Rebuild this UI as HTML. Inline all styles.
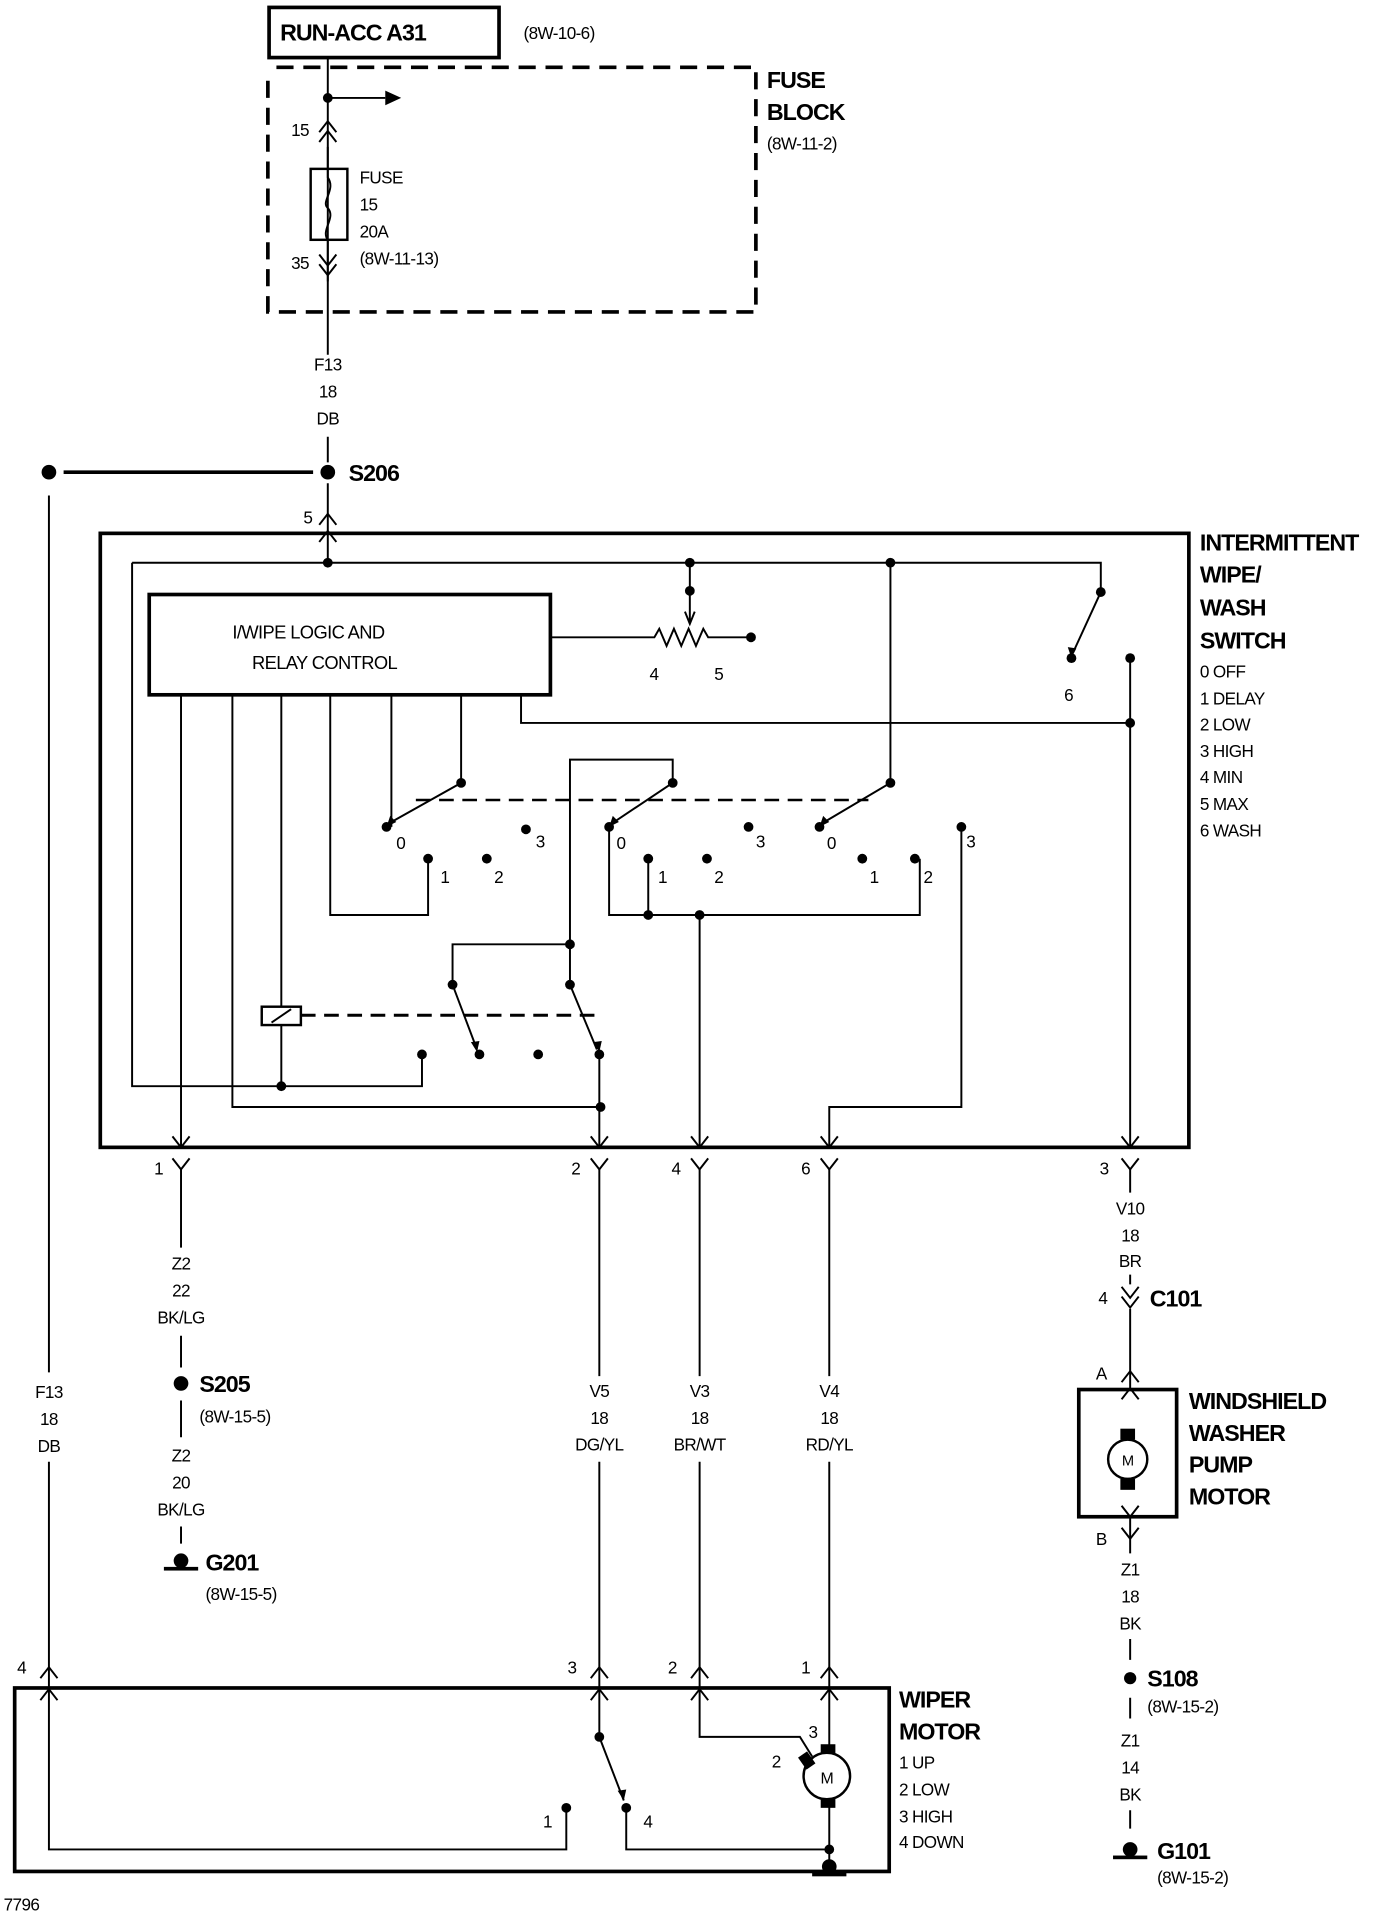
<!DOCTYPE html>
<html><head><meta charset="utf-8"><style>
html,body{margin:0;padding:0;background:#fff;}
svg{display:block;}
text{font-family:"Liberation Sans",sans-serif;fill:#000;}
.b{font-weight:bold;font-size:19px;letter-spacing:-0.8px;}
.s{font-size:14px;letter-spacing:-0.5px;}
.m{font-size:15px;letter-spacing:-0.5px;}
</style></head><body>
<svg width="1376" height="1918" viewBox="0 0 1125 1568" xmlns="http://www.w3.org/2000/svg">
<rect width="1125" height="1568" fill="#fff"/>
<g fill="none" stroke="#000" stroke-width="1.6">
<rect x="220" y="6" width="188" height="41" stroke-width="3"/>
<path d="M219 66 V255 H618 V55 H219" stroke-width="3" stroke-dasharray="14,8"/>
<path d="M268 47 V290 M268 357 V378"/>
<path d="M268 80 H315"/>
<rect x="254" y="138" width="30" height="58" stroke-width="2"/>
<path d="M268 120 V145 C275 155 262 165 268 170 C275 178 262 188 268 196 V230"/>
<path d="M261 108 L268 99 L275 108 M261 116 L268 107 L275 116"/>
<path d="M261 208 L268 217 L275 208 M261 216 L268 225 L275 216"/>
<path d="M52 386 H256" stroke-width="3"/>
<path d="M268 395 V460"/>
<path d="M261 429 L268 420 L275 429 M261 443 L268 434 L275 443"/>
<path d="M40 405 V1122 M40 1195 V1380"/>
<rect x="82" y="436" width="890" height="502" stroke-width="3"/>
<path d="M108 460 H900 V484 M108 460 V888 H345 V862"/>
<path d="M900 484 L878 532"/>
<rect x="122" y="486" width="328" height="82" stroke-width="3"/>
<path d="M450 521 H535 l4 -7 l6 14 l6 -14 l6 14 l6 -14 l6 14 l6 -14 l4 7 H612"/>
<path d="M564 460 V508 M560 500 L564 510 L568 500"/>
<path d="M426 568 V591 H924 M924 538 V938"/>
<path d="M148 568 V938 M190 568 V905 H491 M230 568 V888"/>
<rect x="214" y="823" width="32" height="15" fill="#fff" stroke-width="2"/>
<path d="M222 836 L238 825"/>
<path d="M246 830 H490" stroke-width="2.5" stroke-dasharray="12,7"/>
<path d="M270 568 V748 H350 V702 M320 568 V676 M377 568 V640 L320 672"/>
<path d="M340 654 H710" stroke-width="2" stroke-dasharray="12,7"/>
<path d="M466 772 V621 H550 V640 L502 672"/>
<path d="M498 676 V748 H752 V702 M530 748 V702 M572 748 V938"/>
<path d="M728 460 V640 L674 672"/>
<path d="M786 676 V905 H678 V938"/>
<path d="M466 772 H370 V805 L390 858 M466 772 V805 L488 858 M490 862 V938"/>
<path d="M141 929 L148 938 L155 929 M141 947 L148 956 L155 947"/>
<path d="M483 929 L490 938 L497 929 M483 947 L490 956 L497 947"/>
<path d="M565 929 L572 938 L579 929 M565 947 L572 956 L579 947"/>
<path d="M671 929 L678 938 L685 929 M671 947 L678 956 L685 947"/>
<path d="M917 929 L924 938 L931 929 M917 947 L924 956 L931 947"/>
<path d="M148 956 V1020 M148 1092 V1118 M148 1145 V1175 M148 1248 V1262"/>
<path d="M490 956 V1125 M490 1195 V1380 M572 956 V1125 M572 1195 V1380 M678 956 V1125 M678 1195 V1380"/>
<path d="M924 956 V975 M924 1042 V1050 M924 1070 V1135 M924 1240 V1270 M924 1340 V1357 M924 1388 V1405 M924 1480 V1495"/>
<path d="M917 1052 L924 1061 L931 1052 M917 1060 L924 1069 L931 1060"/>
<path d="M917 1130 L924 1121 L931 1130 M917 1144 L924 1135 L931 1144"/>
<path d="M917 1231 L924 1240 L931 1231 M917 1249 L924 1258 L931 1249"/>
<rect x="882" y="1136" width="80" height="104" stroke-width="3"/>
<circle cx="922" cy="1193" r="16" stroke-width="2"/>
<rect x="12" y="1380" width="715" height="150" stroke-width="3"/>
<path d="M33 1372 L40 1363 L47 1372 M33 1390 L40 1381 L47 1390"/>
<path d="M483 1372 L490 1363 L497 1372 M483 1390 L490 1381 L497 1390"/>
<path d="M565 1372 L572 1363 L579 1372 M565 1390 L572 1381 L579 1390"/>
<path d="M671 1372 L678 1363 L685 1372 M671 1390 L678 1381 L685 1390"/>
<path d="M40 1381 V1512 H463 V1478 M490 1381 V1420 L510 1472 M512 1478 V1512 H678 M572 1381 V1420 H654 L664 1436 M678 1381 V1432 M678 1472 V1530"/>
<circle cx="676" cy="1452" r="19" stroke-width="2"/>
</g>
<g fill="#000">
<circle cx="268" cy="80" r="4"/><path d="M315 74 L328 80 L315 86Z"/>
<circle cx="268" cy="386" r="6"/><circle cx="40" cy="386" r="6"/>
<circle cx="268" cy="460" r="4"/><circle cx="564" cy="460" r="4"/><circle cx="728" cy="460" r="4"/>
<circle cx="564" cy="483" r="4"/><circle cx="614" cy="521" r="4"/>
<circle cx="900" cy="484" r="4"/><circle cx="876" cy="538" r="4"/><circle cx="924" cy="538" r="4"/><circle cx="924" cy="591" r="4"/>
<circle cx="377" cy="640" r="4"/><circle cx="316" cy="676" r="4"/><circle cx="430" cy="678" r="4"/><circle cx="350" cy="702" r="4"/><circle cx="398" cy="702" r="4"/>
<circle cx="550" cy="640" r="4"/><circle cx="498" cy="676" r="4"/><circle cx="612" cy="676" r="4"/><circle cx="530" cy="702" r="4"/><circle cx="578" cy="702" r="4"/>
<circle cx="728" cy="640" r="4"/><circle cx="670" cy="676" r="4"/><circle cx="786" cy="676" r="4"/><circle cx="705" cy="702" r="4"/><circle cx="748" cy="702" r="4"/>
<circle cx="530" cy="748" r="4"/><circle cx="572" cy="748" r="4"/>
<circle cx="466" cy="772" r="4"/><circle cx="370" cy="805" r="4"/><circle cx="466" cy="805" r="4"/>
<circle cx="345" cy="862" r="4"/><circle cx="392" cy="862" r="4"/><circle cx="440" cy="862" r="4"/><circle cx="490" cy="862" r="4"/>
<circle cx="230" cy="888" r="4"/><circle cx="491" cy="905" r="4"/>
<path d="M316 676 l3 -9 l5 5Z"/><path d="M498 676 l3 -9 l5 5Z"/><path d="M670 676 l3 -9 l5 5Z"/>
<path d="M876 538 l-3 -9 l7 1Z"/><path d="M390 860 l-5 -8 l7 -1Z"/><path d="M490 860 l-5 -8 l7 -1Z"/>
<circle cx="148" cy="1131" r="6"/>
<circle cx="148" cy="1276" r="6"/><rect x="134" y="1281" width="28" height="3"/>
<rect x="916" y="1168" width="12" height="9"/><rect x="916" y="1209" width="12" height="9"/>
<circle cx="924" cy="1372" r="5"/>
<circle cx="924" cy="1512" r="6"/><rect x="910" y="1517" width="28" height="3"/>
<circle cx="463" cy="1478" r="4"/><circle cx="512" cy="1478" r="4"/><circle cx="490" cy="1420" r="4"/>
<path d="M510 1472 l-5 -8 l7 -1Z"/>
<rect x="671" y="1426" width="12" height="8"/><rect x="671" y="1470" width="12" height="8"/>
<rect x="655" y="1433" width="9" height="12" transform="rotate(-35 660 1439)"/>
<circle cx="678" cy="1512" r="4"/><circle cx="678" cy="1526" r="6"/><rect x="664" y="1531" width="28" height="3"/>
</g>
<text class="b" x="229" y="33">RUN-ACC A31</text>
<text class="s" x="428" y="32">(8W-10-6)</text>
<text class="b" x="627" y="72">FUSE</text>
<text class="b" x="627" y="98">BLOCK</text>
<text class="s" x="627" y="122">(8W-11-2)</text>
<text class="s" x="238" y="111">15</text>
<text class="s" x="238" y="220">35</text>
<text class="s" x="294" y="150">FUSE</text>
<text class="s" x="294" y="172">15</text>
<text class="s" x="294" y="194">20A</text>
<text class="s" x="294" y="216">(8W-11-13)</text>
<g class="s" text-anchor="middle">
<text x="268" y="303">F13</text><text x="268" y="325">18</text><text x="268" y="347">DB</text>
<text x="40" y="1143">F13</text><text x="40" y="1165">18</text><text x="40" y="1187">DB</text>
<text x="148" y="1038">Z2</text><text x="148" y="1060">22</text><text x="148" y="1082">BK/LG</text>
<text x="148" y="1195">Z2</text><text x="148" y="1217">20</text><text x="148" y="1239">BK/LG</text>
<text x="490" y="1142">V5</text><text x="490" y="1164">18</text><text x="490" y="1186">DG/YL</text>
<text x="572" y="1142">V3</text><text x="572" y="1164">18</text><text x="572" y="1186">BR/WT</text>
<text x="678" y="1142">V4</text><text x="678" y="1164">18</text><text x="678" y="1186">RD/YL</text>
<text x="924" y="993">V10</text><text x="924" y="1015">18</text><text x="924" y="1036">BR</text>
<text x="924" y="1288">Z1</text><text x="924" y="1310">18</text><text x="924" y="1332">BK</text>
<text x="924" y="1428">Z1</text><text x="924" y="1450">14</text><text x="924" y="1472">BK</text>
<text x="922" y="1198" style="font-size:12px">M</text>
<text x="676" y="1458" style="font-size:13px">M</text>
</g>
<text class="b" x="285" y="393">S206</text>
<text class="s" x="248" y="428">5</text>
<text class="b" x="981" y="450">INTERMITTENT</text>
<text class="b" x="981" y="476">WIPE/</text>
<text class="b" x="981" y="503">WASH</text>
<text class="b" x="981" y="530">SWITCH</text>
<g class="s"><text x="981" y="554">0 OFF</text><text x="981" y="576">1 DELAY</text><text x="981" y="597">2 LOW</text><text x="981" y="619">3 HIGH</text><text x="981" y="640">4 MIN</text><text x="981" y="662">5 MAX</text><text x="981" y="684">6 WASH</text></g>
<text class="m" x="190" y="522">I/WIPE LOGIC AND</text>
<text class="m" x="206" y="547">RELAY CONTROL</text>
<g class="s">
<text x="531" y="556">4</text><text x="584" y="556">5</text><text x="870" y="573">6</text>
<text x="324" y="694">0</text><text x="438" y="693">3</text><text x="360" y="722">1</text><text x="404" y="722">2</text>
<text x="504" y="694">0</text><text x="618" y="693">3</text><text x="538" y="722">1</text><text x="584" y="722">2</text>
<text x="676" y="694">0</text><text x="790" y="693">3</text><text x="711" y="722">1</text><text x="755" y="722">2</text>
<text x="126" y="960">1</text><text x="467" y="960">2</text><text x="549" y="960">4</text><text x="655" y="960">6</text><text x="899" y="960">3</text>
<text x="898" y="1066">4</text><text x="896" y="1128">A</text><text x="896" y="1263">B</text>
<text x="163" y="1163">(8W-15-5)</text><text x="168" y="1308">(8W-15-5)</text>
<text x="938" y="1400">(8W-15-2)</text><text x="946" y="1540">(8W-15-2)</text>
<text x="14" y="1368">4</text><text x="464" y="1368">3</text><text x="546" y="1368">2</text><text x="655" y="1368">1</text>
<text x="444" y="1494">1</text><text x="526" y="1494">4</text><text x="661" y="1421">3</text><text x="631" y="1445">2</text>
<text x="735" y="1446">1 UP</text><text x="735" y="1468">2 LOW</text><text x="735" y="1490">3 HIGH</text><text x="735" y="1511">4 DOWN</text>
<text x="3" y="1562">7796</text>
</g>
<text class="b" x="940" y="1068">C101</text>
<text class="b" x="163" y="1138">S205</text>
<text class="b" x="168" y="1284">G201</text>
<text class="b" x="938" y="1379">S108</text>
<text class="b" x="946" y="1520">G101</text>
<text class="b" x="972" y="1152">WINDSHIELD</text>
<text class="b" x="972" y="1178">WASHER</text>
<text class="b" x="972" y="1204">PUMP</text>
<text class="b" x="972" y="1230">MOTOR</text>
<text class="b" x="735" y="1396">WIPER</text>
<text class="b" x="735" y="1422">MOTOR</text>
</svg>
</body></html>
